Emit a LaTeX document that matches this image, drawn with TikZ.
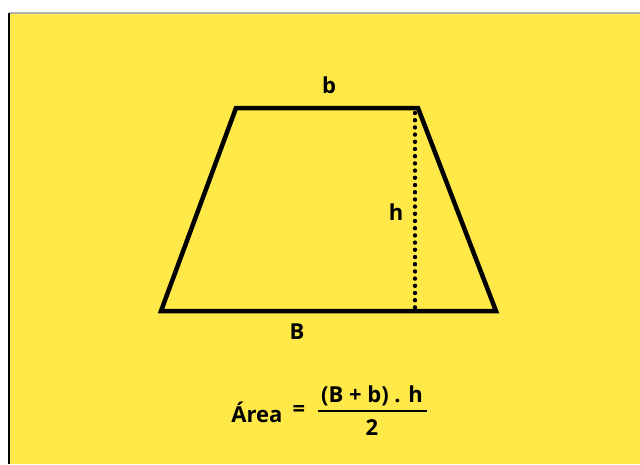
\documentclass[tikz,border=0pt]{standalone}
\usepackage{fontspec}
\setmainfont{Open Sans}
\definecolor{bgyellow}{RGB}{255,233,72}
\begin{document}
\begin{tikzpicture}[x=1pt, y=-1pt,
  lbl/.style={font=\bfseries\fontsize{22}{26}\selectfont, inner sep=0pt}]
  % Page, yellow card and its frame
  \useasboundingbox (0,0) rectangle (640,464);
  \fill[white] (0,0) rectangle (640,464);
  \fill[bgyellow] (9,13) rectangle (640,464);
  \draw[gray!60, line width=1.2] (9,13) -- (640,13);
  \draw[black, line width=1.2] (9,13) -- (9,464);

  % Trapezoid corners
  \coordinate (tl) at (236,108);
  \coordinate (tr) at (418,108);
  \coordinate (br) at (496,311);
  \coordinate (bl) at (161,311);
  \draw[line width=4.5, line join=miter] (bl) -- (tl) -- (tr) -- (br) -- cycle;

  % Height (dotted)
  \coordinate (htop) at (415,113);
  \coordinate (hbot) at (415,310);
  \draw[line width=4.4, line cap=round, dash pattern=on 0pt off 7.2pt] (htop) -- (hbot);

  % Labels
  \node[lbl] (smallb) at (329,85) {b};
  \node[lbl] (hgt) at (396,212) {h};
  \node[lbl] (bigB) at (297,332) {B};

  % Area formula
  \node[lbl] (area) at (257,412) {Área};
  \node[lbl] (eq) at (299,411) {=};
  \node[lbl] (num) at (372,396) {(B + b) . h};
  \node[lbl] (den) at (372,428) {2};
  \coordinate (fl) at (318,411);
  \coordinate (fr) at (427,411);
  \draw[line width=1.6] (fl) -- (fr);
\end{tikzpicture}
\end{document}
